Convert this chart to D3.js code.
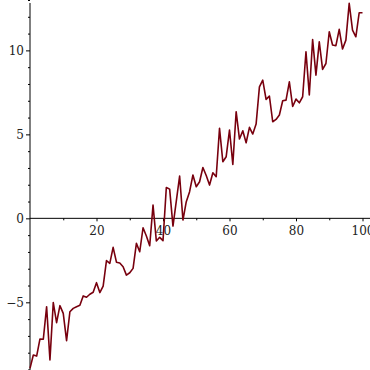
<!DOCTYPE html>
<html>
<head>
<meta charset="utf-8">
<script src="https://cdn.jsdelivr.net/npm/d3@7"></script>
<style>
  body { margin: 0; background: #fff; }
  svg { display: block; }
  .tick text { font-family: "DejaVu Serif", serif; font-size: 12px; fill: #222; }
</style>
</head>
<body>
<div id="chart"></div>
<script>
const width = 370;
const height = 370;

// x = 0..100
const xs = d3.range(0, 101);
const ys = [
  -8.93, -8.14, -8.20, -7.18, -7.20, -5.26, -8.43, -5.02, -6.21, -5.20,
  -5.66, -7.28, -5.56, -5.36, -5.26, -5.18, -4.62, -4.70, -4.52, -4.40,
  -3.83, -4.42, -4.03, -2.52, -2.68, -1.73, -2.61, -2.66, -2.88, -3.38,
  -3.24, -2.98, -1.49, -1.99, -0.56, -1.05, -1.63, 0.79, -1.35, -1.13,
  -1.33, 1.84, 1.74, -0.46, 1.03, 2.52, -0.10, 0.99, 1.59, 2.58,
  1.88, 2.18, 3.03, 2.55, 1.98, 2.71, 2.48, 5.36, 3.37, 3.67,
  5.26, 3.21, 6.35, 4.72, 5.21, 4.50, 5.42, 5.02, 5.61, 7.83,
  8.23, 7.08, 7.28, 5.75, 5.89, 6.15, 7.00, 7.04, 8.13, 6.66,
  7.10, 6.88, 7.24, 9.92, 7.34, 10.65, 8.53, 10.51, 8.87, 9.22,
  11.11, 10.32, 10.28, 11.25, 10.08, 10.61, 12.80, 11.21, 10.81, 12.24,
  12.24
];
const xMajor = [20, 40, 60, 80, 100];
const xMinor = [10, 30, 50, 70, 90];
const yMajor = [-5, 0, 5, 10];
const yMinor = d3.range(-9, 14).filter(v => v % 5 !== 0);

const x = d3.scaleLinear().domain([0, 100]).range([30, 362.5]);
const y = d3.scaleLinear().domain([-9.03, 13.0]).range([370, 0]);

const svg = d3.select("#chart")
    .append("svg")
    .attr("width", width)
    .attr("height", height);

// axis lines
svg.append("line")
    .attr("x1", x(0)).attr("x2", width)
    .attr("y1", y(0)).attr("y2", y(0))
    .attr("stroke", "#000");
svg.append("line")
    .attr("x1", x(0)).attr("x2", x(0))
    .attr("y1", 3).attr("y2", height)
    .attr("stroke", "#000");

// x ticks
svg.append("g")
    .attr("transform", `translate(0,${y(0)})`)
    .call(d3.axisBottom(x).tickValues(xMinor).tickSize(2).tickFormat(""))
    .call(g => g.select(".domain").remove());
svg.append("g")
    .attr("transform", `translate(0,${y(0)})`)
    .call(d3.axisBottom(x).tickValues(xMajor).tickSize(3).tickPadding(5).tickFormat(d3.format("d")))
    .call(g => g.select(".domain").remove());

// y ticks
svg.append("g")
    .attr("transform", `translate(${x(0)},0)`)
    .call(d3.axisLeft(y).tickValues(yMinor).tickSize(2).tickFormat(""))
    .call(g => g.select(".domain").remove());
svg.append("g")
    .attr("transform", `translate(${x(0)},0)`)
    .call(d3.axisLeft(y).tickValues(yMajor).tickSize(4).tickPadding(2)
        .tickFormat(d => d < 0 ? "\u2212" + Math.abs(d) : d))
    .call(g => g.select(".domain").remove());

// the series
const line = d3.line()
    .x((d, i) => x(xs[i]))
    .y(d => y(d));

svg.append("path")
    .datum(ys)
    .attr("fill", "none")
    .attr("stroke", "#78000e")
    .attr("stroke-width", 1.6)
    .attr("stroke-linejoin", "round")
    .attr("d", line);
</script>
</body>
</html>
